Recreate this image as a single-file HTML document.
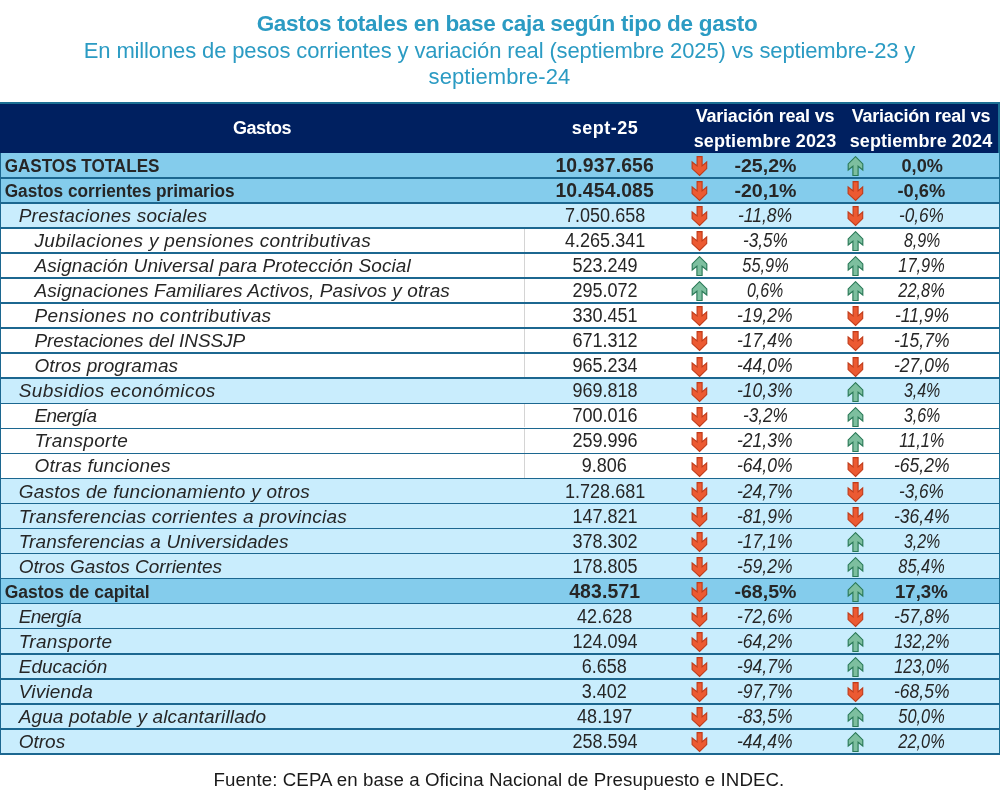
<!DOCTYPE html>
<html lang="es"><head><meta charset="utf-8"><title>Gastos totales en base caja</title>
<style>
html,body{margin:0;padding:0;background:#fff;}
body{width:1000px;height:800px;overflow:hidden;font-family:"Liberation Sans",sans-serif;color:#262626;}
.page{position:relative;width:1000px;height:800px;}
.title{position:absolute;left:7px;width:1000px;top:11.1px;margin:0;text-align:center;font-size:22.5px;letter-spacing:-0.28px;line-height:26px;font-weight:bold;color:#2b9bc3;white-space:nowrap;}
.sub{position:absolute;left:-0.5px;width:1000px;margin:0;text-align:center;font-size:22px;letter-spacing:-0.13px;line-height:26px;font-weight:normal;color:#2b9bc3;white-space:nowrap;}
.sub1{top:37.5px}.sub2{top:63.5px;letter-spacing:0.1px}
.tbl{position:absolute;left:0;top:102px;width:1000px;height:652px;background:#fff;}
.hdr{position:absolute;left:0;top:0;width:1000px;height:51px;background:#002060;border-top:2px solid #1b6f93;box-sizing:border-box;border-right:2px solid #1b6f93;}
.h{position:absolute;top:0;height:49px;color:#fff;font-weight:bold;font-size:18px;text-align:center;display:flex;flex-direction:column;justify-content:center;align-items:center;line-height:25px;white-space:nowrap;}
.c1{left:0;width:524px}
.c2{left:523.5px;width:163px}
.c3{left:687.5px;width:156px}
.c4{left:844px;width:156px}
.row{position:absolute;left:0;width:1000px;height:25.04px;box-sizing:border-box;border-left:1.3px solid #1c6790;border-right:1.8px solid #1b6f93;font-size:18px;line-height:24px;white-space:nowrap;}
.row.s{background:#84ccec;font-weight:bold;font-size:18.8px;}
.row.l{background:#c9edfd;}
.row.w{background:#fff;}
.row>div{position:absolute;top:1px;height:24px;}
.row>*{margin-left:-1.3px}
.n{text-align:left;box-sizing:border-box;}
.i0 .n{padding-left:4.7px}
.i1 .n{padding-left:19px;font-style:italic;font-size:19px}
.i2 .n{padding-left:34.8px;font-style:italic;font-size:19px}
.v,.p{text-align:center}
.v{font-size:19.4px;line-height:23.4px}
.v .sc{transform:scaleX(0.93)}
.s .v{font-size:19.4px;letter-spacing:0.15px}
.s .v .sc{transform:none}
.p{font-size:19.4px;line-height:23.4px}
.s .p{font-size:18.6px;line-height:23.8px}
.sc{display:inline-block;transform-origin:50% 50%}
.i1 .p,.i2 .p{font-style:italic}
.row.w::after{content:"";position:absolute;left:522.7px;top:0.7px;width:1px;height:23.4px;background:#d4d4d4}
.ic{position:absolute;top:3.2px;overflow:visible}
.ic.a3{left:690.8px}.ic.a4{left:847.3px}
.ic.dn{fill:#ec5a32;stroke:#c03a18;stroke-width:1.1;stroke-linejoin:miter}
.ic.up{fill:#7dbf9f;stroke:#2b7a58;stroke-width:1.15;stroke-linejoin:miter}
.src{position:absolute;left:-1px;width:1000px;top:767.5px;letter-spacing:0.08px;margin:0;text-align:center;font-size:18.7px;line-height:24px;color:#1a1a1a;white-space:nowrap;}
.h.c1{letter-spacing:-0.5px}
.h.c2{letter-spacing:0.5px}
.h span:first-child{letter-spacing:-0.2px}
.h span:last-child{letter-spacing:0.1px}
.row::before{content:"";position:absolute;left:-1.3px;width:1000px;top:-0.9px;height:1.6px;background:#1c6790;}
.row.first::before{display:none}
.row.first{margin-top:-0.3px;height:25.34px}
.row.last::after{content:"";position:absolute;left:-1.3px;width:1000px;top:24.1px;height:1.6px;background:#1c6790;}
.h.c4{left:843px}.h.c3{left:687px}
.s .n{transform-origin:4.7px 50%}

</style></head><body>
<svg width="0" height="0" style="position:absolute"><defs><symbol id="dn" viewBox="0 0 17 21"><path d="M6.1 0.6 H11.1 V9.9 L15.7 6 V12.6 L8.6 19.5 L1.1 12.6 V6 L6.1 9.9 Z"/></symbol><symbol id="up" viewBox="0 0 17 21"><path d="M8.5 0.7 L15.8 7.9 V14 L11.1 10.2 V19.5 H5.9 V10.2 L1.2 14 V7.9 Z"/></symbol></defs></svg>
<div class="page">
<h1 class="title">Gastos totales en base caja según tipo de gasto</h1>
<p class="sub sub1">En millones de pesos corrientes y variación real (septiembre 2025) vs septiembre-23 y</p>
<p class="sub sub2">septiembre-24</p>
<div class="tbl">
<div class="hdr"><div class="h c1">Gastos</div><div class="h c2">sept-25</div><div class="h c3"><span>Variación real vs</span><span>septiembre 2023</span></div><div class="h c4"><span>Variación real vs</span><span>septiembre 2024</span></div></div>
<div class="row s i0 first" style="top:51.00px"><div class="c1 n" style="transform:scaleX(0.9097)">GASTOS TOTALES</div><div class="c2 v"><span class="sc">10.937.656</span></div><svg class="ic a3 dn" width="17" height="21"><use href="#dn"/></svg><div class="c3 p"><span class="sc" style="transform:scaleX(1.054)">-25,2%</span></div><svg class="ic a4 up" width="17" height="21"><use href="#up"/></svg><div class="c4 p"><span class="sc" style="transform:scaleX(0.976)">0,0%</span></div></div>
<div class="row s i0" style="top:76.04px"><div class="c1 n" style="transform:scaleX(0.9180)">Gastos corrientes primarios</div><div class="c2 v"><span class="sc">10.454.085</span></div><svg class="ic a3 dn" width="17" height="21"><use href="#dn"/></svg><div class="c3 p"><span class="sc" style="transform:scaleX(1.054)">-20,1%</span></div><svg class="ic a4 dn" width="17" height="21"><use href="#dn"/></svg><div class="c4 p"><span class="sc" style="transform:scaleX(0.981)">-0,6%</span></div></div>
<div class="row l i1" style="top:101.08px"><div class="c1 n" style="letter-spacing:0.23px">Prestaciones sociales</div><div class="c2 v"><span class="sc">7.050.658</span></div><svg class="ic a3 dn" width="17" height="21"><use href="#dn"/></svg><div class="c3 p"><span class="sc" style="transform:scaleX(0.902)">-11,8%</span></div><svg class="ic a4 dn" width="17" height="21"><use href="#dn"/></svg><div class="c4 p"><span class="sc" style="transform:scaleX(0.885)">-0,6%</span></div></div>
<div class="row w i2" style="top:126.12px"><div class="c1 n" style="letter-spacing:0.35px">Jubilaciones y pensiones contributivas</div><div class="c2 v"><span class="sc">4.265.341</span></div><svg class="ic a3 dn" width="17" height="21"><use href="#dn"/></svg><div class="c3 p"><span class="sc" style="transform:scaleX(0.885)">-3,5%</span></div><svg class="ic a4 up" width="17" height="21"><use href="#up"/></svg><div class="c4 p"><span class="sc" style="transform:scaleX(0.824)">8,9%</span></div></div>
<div class="row w i2" style="top:151.16px"><div class="c1 n" style="letter-spacing:0.08px">Asignación Universal para Protección Social</div><div class="c2 v"><span class="sc">523.249</span></div><svg class="ic a3 up" width="17" height="21"><use href="#up"/></svg><div class="c3 p"><span class="sc" style="transform:scaleX(0.843)">55,9%</span></div><svg class="ic a4 up" width="17" height="21"><use href="#up"/></svg><div class="c4 p"><span class="sc" style="transform:scaleX(0.843)">17,9%</span></div></div>
<div class="row w i2" style="top:176.20px"><div class="c1 n" style="letter-spacing:0.09px">Asignaciones Familiares Activos, Pasivos y otras</div><div class="c2 v"><span class="sc">295.072</span></div><svg class="ic a3 up" width="17" height="21"><use href="#up"/></svg><div class="c3 p"><span class="sc" style="transform:scaleX(0.824)">0,6%</span></div><svg class="ic a4 up" width="17" height="21"><use href="#up"/></svg><div class="c4 p"><span class="sc" style="transform:scaleX(0.843)">22,8%</span></div></div>
<div class="row w i2" style="top:201.24px"><div class="c1 n" style="letter-spacing:0.38px">Pensiones no contributivas</div><div class="c2 v"><span class="sc">330.451</span></div><svg class="ic a3 dn" width="17" height="21"><use href="#dn"/></svg><div class="c3 p"><span class="sc" style="transform:scaleX(0.902)">-19,2%</span></div><svg class="ic a4 dn" width="17" height="21"><use href="#dn"/></svg><div class="c4 p"><span class="sc" style="transform:scaleX(0.902)">-11,9%</span></div></div>
<div class="row w i2" style="top:226.28px"><div class="c1 n" style="letter-spacing:-0.07px">Prestaciones del INSSJP</div><div class="c2 v"><span class="sc">671.312</span></div><svg class="ic a3 dn" width="17" height="21"><use href="#dn"/></svg><div class="c3 p"><span class="sc" style="transform:scaleX(0.902)">-17,4%</span></div><svg class="ic a4 dn" width="17" height="21"><use href="#dn"/></svg><div class="c4 p"><span class="sc" style="transform:scaleX(0.902)">-15,7%</span></div></div>
<div class="row w i2" style="top:251.32px"><div class="c1 n" style="letter-spacing:0.07px">Otros programas</div><div class="c2 v"><span class="sc">965.234</span></div><svg class="ic a3 dn" width="17" height="21"><use href="#dn"/></svg><div class="c3 p"><span class="sc" style="transform:scaleX(0.902)">-44,0%</span></div><svg class="ic a4 dn" width="17" height="21"><use href="#dn"/></svg><div class="c4 p"><span class="sc" style="transform:scaleX(0.902)">-27,0%</span></div></div>
<div class="row l i1" style="top:276.36px"><div class="c1 n" style="letter-spacing:0.40px">Subsidios económicos</div><div class="c2 v"><span class="sc">969.818</span></div><svg class="ic a3 dn" width="17" height="21"><use href="#dn"/></svg><div class="c3 p"><span class="sc" style="transform:scaleX(0.902)">-10,3%</span></div><svg class="ic a4 up" width="17" height="21"><use href="#up"/></svg><div class="c4 p"><span class="sc" style="transform:scaleX(0.824)">3,4%</span></div></div>
<div class="row w i2" style="top:301.40px"><div class="c1 n" style="letter-spacing:-0.67px">Energía</div><div class="c2 v"><span class="sc">700.016</span></div><svg class="ic a3 dn" width="17" height="21"><use href="#dn"/></svg><div class="c3 p"><span class="sc" style="transform:scaleX(0.885)">-3,2%</span></div><svg class="ic a4 up" width="17" height="21"><use href="#up"/></svg><div class="c4 p"><span class="sc" style="transform:scaleX(0.824)">3,6%</span></div></div>
<div class="row w i2" style="top:326.44px"><div class="c1 n" style="letter-spacing:0.33px">Transporte</div><div class="c2 v"><span class="sc">259.996</span></div><svg class="ic a3 dn" width="17" height="21"><use href="#dn"/></svg><div class="c3 p"><span class="sc" style="transform:scaleX(0.902)">-21,3%</span></div><svg class="ic a4 up" width="17" height="21"><use href="#up"/></svg><div class="c4 p"><span class="sc" style="transform:scaleX(0.843)">11,1%</span></div></div>
<div class="row w i2" style="top:351.48px"><div class="c1 n" style="letter-spacing:0.21px">Otras funciones</div><div class="c2 v"><span class="sc">9.806</span></div><svg class="ic a3 dn" width="17" height="21"><use href="#dn"/></svg><div class="c3 p"><span class="sc" style="transform:scaleX(0.902)">-64,0%</span></div><svg class="ic a4 dn" width="17" height="21"><use href="#dn"/></svg><div class="c4 p"><span class="sc" style="transform:scaleX(0.902)">-65,2%</span></div></div>
<div class="row l i1" style="top:376.52px"><div class="c1 n" style="letter-spacing:0.26px">Gastos de funcionamiento y otros</div><div class="c2 v"><span class="sc">1.728.681</span></div><svg class="ic a3 dn" width="17" height="21"><use href="#dn"/></svg><div class="c3 p"><span class="sc" style="transform:scaleX(0.902)">-24,7%</span></div><svg class="ic a4 dn" width="17" height="21"><use href="#dn"/></svg><div class="c4 p"><span class="sc" style="transform:scaleX(0.885)">-3,6%</span></div></div>
<div class="row l i1" style="top:401.56px"><div class="c1 n" style="letter-spacing:0.23px">Transferencias corrientes a provincias</div><div class="c2 v"><span class="sc">147.821</span></div><svg class="ic a3 dn" width="17" height="21"><use href="#dn"/></svg><div class="c3 p"><span class="sc" style="transform:scaleX(0.902)">-81,9%</span></div><svg class="ic a4 dn" width="17" height="21"><use href="#dn"/></svg><div class="c4 p"><span class="sc" style="transform:scaleX(0.902)">-36,4%</span></div></div>
<div class="row l i1" style="top:426.60px"><div class="c1 n" style="letter-spacing:0.14px">Transferencias a Universidades</div><div class="c2 v"><span class="sc">378.302</span></div><svg class="ic a3 dn" width="17" height="21"><use href="#dn"/></svg><div class="c3 p"><span class="sc" style="transform:scaleX(0.902)">-17,1%</span></div><svg class="ic a4 up" width="17" height="21"><use href="#up"/></svg><div class="c4 p"><span class="sc" style="transform:scaleX(0.824)">3,2%</span></div></div>
<div class="row l i1" style="top:451.64px"><div class="c1 n" style="letter-spacing:-0.07px">Otros Gastos Corrientes</div><div class="c2 v"><span class="sc">178.805</span></div><svg class="ic a3 dn" width="17" height="21"><use href="#dn"/></svg><div class="c3 p"><span class="sc" style="transform:scaleX(0.902)">-59,2%</span></div><svg class="ic a4 up" width="17" height="21"><use href="#up"/></svg><div class="c4 p"><span class="sc" style="transform:scaleX(0.843)">85,4%</span></div></div>
<div class="row s i0" style="top:476.68px"><div class="c1 n" style="transform:scaleX(0.9319)">Gastos de capital</div><div class="c2 v"><span class="sc">483.571</span></div><svg class="ic a3 dn" width="17" height="21"><use href="#dn"/></svg><div class="c3 p"><span class="sc" style="transform:scaleX(1.054)">-68,5%</span></div><svg class="ic a4 up" width="17" height="21"><use href="#up"/></svg><div class="c4 p"><span class="sc" style="transform:scaleX(1.001)">17,3%</span></div></div>
<div class="row l i1" style="top:501.72px"><div class="c1 n" style="letter-spacing:-0.58px">Energía</div><div class="c2 v"><span class="sc">42.628</span></div><svg class="ic a3 dn" width="17" height="21"><use href="#dn"/></svg><div class="c3 p"><span class="sc" style="transform:scaleX(0.902)">-72,6%</span></div><svg class="ic a4 dn" width="17" height="21"><use href="#dn"/></svg><div class="c4 p"><span class="sc" style="transform:scaleX(0.902)">-57,8%</span></div></div>
<div class="row l i1" style="top:526.76px"><div class="c1 n" style="letter-spacing:0.33px">Transporte</div><div class="c2 v"><span class="sc">124.094</span></div><svg class="ic a3 dn" width="17" height="21"><use href="#dn"/></svg><div class="c3 p"><span class="sc" style="transform:scaleX(0.902)">-64,2%</span></div><svg class="ic a4 up" width="17" height="21"><use href="#up"/></svg><div class="c4 p"><span class="sc" style="transform:scaleX(0.838)">132,2%</span></div></div>
<div class="row l i1" style="top:551.80px"><div class="c1 n">Educación</div><div class="c2 v"><span class="sc">6.658</span></div><svg class="ic a3 dn" width="17" height="21"><use href="#dn"/></svg><div class="c3 p"><span class="sc" style="transform:scaleX(0.902)">-94,7%</span></div><svg class="ic a4 up" width="17" height="21"><use href="#up"/></svg><div class="c4 p"><span class="sc" style="transform:scaleX(0.838)">123,0%</span></div></div>
<div class="row l i1" style="top:576.84px"><div class="c1 n" style="letter-spacing:0.21px">Vivienda</div><div class="c2 v"><span class="sc">3.402</span></div><svg class="ic a3 dn" width="17" height="21"><use href="#dn"/></svg><div class="c3 p"><span class="sc" style="transform:scaleX(0.902)">-97,7%</span></div><svg class="ic a4 dn" width="17" height="21"><use href="#dn"/></svg><div class="c4 p"><span class="sc" style="transform:scaleX(0.902)">-68,5%</span></div></div>
<div class="row l i1" style="top:601.88px"><div class="c1 n" style="letter-spacing:0.12px">Agua potable y alcantarillado</div><div class="c2 v"><span class="sc">48.197</span></div><svg class="ic a3 dn" width="17" height="21"><use href="#dn"/></svg><div class="c3 p"><span class="sc" style="transform:scaleX(0.902)">-83,5%</span></div><svg class="ic a4 up" width="17" height="21"><use href="#up"/></svg><div class="c4 p"><span class="sc" style="transform:scaleX(0.843)">50,0%</span></div></div>
<div class="row l i1 last" style="top:626.92px"><div class="c1 n">Otros</div><div class="c2 v"><span class="sc">258.594</span></div><svg class="ic a3 dn" width="17" height="21"><use href="#dn"/></svg><div class="c3 p"><span class="sc" style="transform:scaleX(0.902)">-44,4%</span></div><svg class="ic a4 up" width="17" height="21"><use href="#up"/></svg><div class="c4 p"><span class="sc" style="transform:scaleX(0.843)">22,0%</span></div></div>
</div>
<p class="src">Fuente: CEPA en base a Oficina Nacional de Presupuesto e INDEC.</p>
</div></body></html>
